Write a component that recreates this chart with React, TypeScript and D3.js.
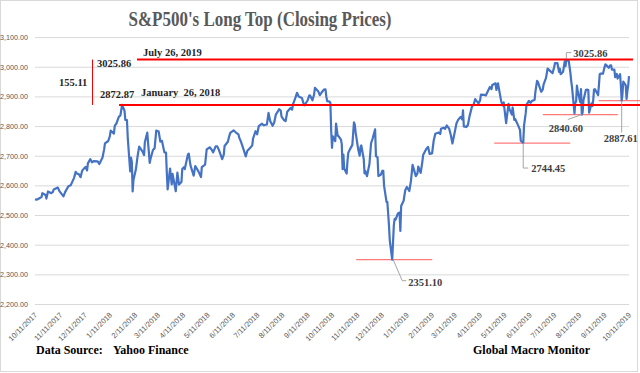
import * as d3 from "d3";

// S&P 500 closes (every few sessions)
const closeDates = [
  "2017-10-11", "2017-10-13", "2017-10-17", "2017-10-19", "2017-10-20", "2017-10-24", "2017-10-25", "2017-10-27",
  "2017-10-31", "2017-11-02", "2017-11-03", "2017-11-08", "2017-11-10", "2017-11-15", "2017-11-17", "2017-11-21",
  "2017-11-24", "2017-11-28", "2017-11-30", "2017-12-01", "2017-12-04", "2017-12-06", "2017-12-08", "2017-12-12",
  "2017-12-14", "2017-12-15", "2017-12-18", "2017-12-20", "2017-12-22", "2017-12-27", "2017-12-29",
  "2018-01-02", "2018-01-04", "2018-01-05", "2018-01-09", "2018-01-11", "2018-01-12", "2018-01-16", "2018-01-17",
  "2018-01-19", "2018-01-22", "2018-01-24", "2018-01-26", "2018-01-29", "2018-01-30", "2018-02-01", "2018-02-02",
  "2018-02-05", "2018-02-06", "2018-02-07", "2018-02-08", "2018-02-09", "2018-02-12", "2018-02-14", "2018-02-16",
  "2018-02-20", "2018-02-22", "2018-02-23", "2018-02-26", "2018-02-27", "2018-03-01", "2018-03-02", "2018-03-05",
  "2018-03-07", "2018-03-09", "2018-03-12", "2018-03-14", "2018-03-16", "2018-03-19", "2018-03-21", "2018-03-22",
  "2018-03-23", "2018-03-26", "2018-03-28", "2018-03-29", "2018-04-02", "2018-04-03", "2018-04-04", "2018-04-06",
  "2018-04-09", "2018-04-10", "2018-04-12", "2018-04-13", "2018-04-17", "2018-04-18", "2018-04-20", "2018-04-24",
  "2018-04-26", "2018-04-30", "2018-05-03", "2018-05-04", "2018-05-08", "2018-05-10", "2018-05-14", "2018-05-16",
  "2018-05-18", "2018-05-21", "2018-05-23", "2018-05-25", "2018-05-29", "2018-05-31", "2018-06-01", "2018-06-05",
  "2018-06-07", "2018-06-08", "2018-06-12", "2018-06-14", "2018-06-15", "2018-06-18", "2018-06-19", "2018-06-21",
  "2018-06-25", "2018-06-27", "2018-06-29", "2018-07-02", "2018-07-05", "2018-07-06", "2018-07-09", "2018-07-11",
  "2018-07-13", "2018-07-17", "2018-07-19", "2018-07-23", "2018-07-25", "2018-07-27", "2018-07-30", "2018-08-01",
  "2018-08-03", "2018-08-07", "2018-08-09", "2018-08-10", "2018-08-13", "2018-08-15", "2018-08-17", "2018-08-21",
  "2018-08-23", "2018-08-24", "2018-08-27", "2018-08-29", "2018-08-31", "2018-09-04", "2018-09-06", "2018-09-07",
  "2018-09-11", "2018-09-13", "2018-09-14", "2018-09-17", "2018-09-19", "2018-09-20", "2018-09-24", "2018-09-26",
  "2018-09-28", "2018-10-01", "2018-10-03", "2018-10-04", "2018-10-05", "2018-10-08", "2018-10-09", "2018-10-10",
  "2018-10-11", "2018-10-12", "2018-10-15", "2018-10-16", "2018-10-18", "2018-10-19", "2018-10-22", "2018-10-23",
  "2018-10-24", "2018-10-25", "2018-10-26", "2018-10-29", "2018-10-30", "2018-10-31", "2018-11-02", "2018-11-05",
  "2018-11-07", "2018-11-08", "2018-11-09", "2018-11-12", "2018-11-14", "2018-11-15", "2018-11-16", "2018-11-19",
  "2018-11-20", "2018-11-21", "2018-11-23", "2018-11-26", "2018-11-28", "2018-11-30", "2018-12-03", "2018-12-04",
  "2018-12-06", "2018-12-07", "2018-12-10", "2018-12-12", "2018-12-13", "2018-12-14", "2018-12-17", "2018-12-18",
  "2018-12-19", "2018-12-20", "2018-12-21", "2018-12-24", "2018-12-26", "2018-12-27", "2018-12-28", "2018-12-31",
  "2019-01-02", "2019-01-03", "2019-01-04", "2019-01-07", "2019-01-09", "2019-01-11", "2019-01-14", "2019-01-16",
  "2019-01-18", "2019-01-22", "2019-01-24", "2019-01-25", "2019-01-28", "2019-01-30", "2019-01-31", "2019-02-04",
  "2019-02-06", "2019-02-08", "2019-02-11", "2019-02-13", "2019-02-15", "2019-02-19", "2019-02-21", "2019-02-22",
  "2019-02-25", "2019-02-27", "2019-03-01", "2019-03-04", "2019-03-06", "2019-03-08", "2019-03-11", "2019-03-13",
  "2019-03-15", "2019-03-18", "2019-03-20", "2019-03-21", "2019-03-22", "2019-03-25", "2019-03-27", "2019-03-29",
  "2019-04-01", "2019-04-03", "2019-04-05", "2019-04-09", "2019-04-11", "2019-04-12", "2019-04-16", "2019-04-18",
  "2019-04-23", "2019-04-25", "2019-04-26", "2019-04-30", "2019-05-01", "2019-05-03", "2019-05-07", "2019-05-09",
  "2019-05-10", "2019-05-13", "2019-05-14", "2019-05-16", "2019-05-17", "2019-05-20", "2019-05-21", "2019-05-23",
  "2019-05-24", "2019-05-28", "2019-05-30", "2019-05-31", "2019-06-03", "2019-06-04", "2019-06-06", "2019-06-07",
  "2019-06-10", "2019-06-12", "2019-06-14", "2019-06-17", "2019-06-18", "2019-06-20", "2019-06-21", "2019-06-25",
  "2019-06-27", "2019-06-28", "2019-07-01", "2019-07-03", "2019-07-05", "2019-07-09", "2019-07-11", "2019-07-12",
  "2019-07-15", "2019-07-17", "2019-07-18", "2019-07-19", "2019-07-22", "2019-07-24", "2019-07-25", "2019-07-26",
  "2019-07-29", "2019-07-31", "2019-08-01", "2019-08-02", "2019-08-05", "2019-08-06", "2019-08-07", "2019-08-08",
  "2019-08-09", "2019-08-12", "2019-08-13", "2019-08-14", "2019-08-15", "2019-08-16", "2019-08-19", "2019-08-21",
  "2019-08-22", "2019-08-23", "2019-08-26", "2019-08-27", "2019-08-28", "2019-08-29", "2019-08-30", "2019-09-03",
  "2019-09-04", "2019-09-05", "2019-09-06", "2019-09-09", "2019-09-11", "2019-09-12", "2019-09-13", "2019-09-16",
  "2019-09-18", "2019-09-19", "2019-09-20", "2019-09-23", "2019-09-24", "2019-09-26", "2019-09-27", "2019-09-30",
  "2019-10-01", "2019-10-02", "2019-10-03", "2019-10-04", "2019-10-07", "2019-10-08", "2019-10-09", "2019-10-10",
  "2019-10-11",
];

const closeValues = [
  2555.2, 2553.2, 2559.4, 2562.1, 2575.2, 2569.1, 2557.2, 2581.1,
  2575.3, 2579.9, 2587.8, 2594.4, 2582.3, 2564.6, 2578.9, 2599.0,
  2602.4, 2627.0, 2647.6, 2642.2, 2639.4, 2629.3, 2651.5, 2664.1,
  2652.0, 2675.8, 2690.2, 2679.3, 2683.3, 2682.6, 2673.6,
  2695.8, 2723.9, 2743.2, 2751.3, 2767.6, 2786.2, 2776.4, 2802.6,
  2810.3, 2832.9, 2837.5, 2872.9, 2853.5, 2822.4, 2821.9, 2762.1,
  2648.9, 2695.1, 2681.7, 2581.0, 2619.6, 2656.0, 2698.6, 2732.2,
  2716.3, 2703.9, 2747.3, 2779.6, 2744.3, 2677.7, 2691.3, 2720.9,
  2726.8, 2786.6, 2783.0, 2749.5, 2752.0, 2712.9, 2711.9, 2643.7,
  2588.3, 2658.6, 2605.0, 2640.9, 2581.9, 2614.5, 2644.7, 2604.5,
  2613.2, 2656.9, 2663.0, 2656.3, 2706.4, 2708.6, 2670.1, 2634.6,
  2666.9, 2648.1, 2629.7, 2663.4, 2671.9, 2723.1, 2730.1, 2722.5,
  2712.9, 2733.0, 2733.3, 2721.3, 2689.9, 2705.3, 2734.6, 2748.8,
  2770.4, 2779.0, 2786.9, 2782.5, 2779.7, 2773.8, 2762.6, 2749.8,
  2717.1, 2699.6, 2718.4, 2726.7, 2736.6, 2759.8, 2784.2, 2774.0,
  2801.3, 2809.6, 2804.5, 2806.9, 2846.1, 2818.8, 2802.6, 2813.4,
  2840.4, 2858.5, 2853.6, 2833.3, 2821.9, 2818.4, 2850.1, 2862.9,
  2857.0, 2874.7, 2896.7, 2914.0, 2901.5, 2896.7, 2878.1, 2871.7,
  2887.9, 2904.2, 2905.0, 2888.8, 2908.0, 2930.8, 2919.4, 2906.0,
  2914.0, 2924.6, 2925.5, 2901.6, 2885.6, 2884.4, 2880.3, 2785.7,
  2728.4, 2767.1, 2750.8, 2809.9, 2768.8, 2767.8, 2755.9, 2740.7,
  2656.1, 2705.6, 2658.7, 2641.3, 2682.6, 2711.7, 2723.1, 2738.3,
  2813.9, 2806.8, 2781.0, 2726.2, 2701.6, 2730.2, 2736.3, 2690.7,
  2641.9, 2649.9, 2632.6, 2673.5, 2743.8, 2760.2, 2790.4, 2700.1,
  2696.0, 2633.1, 2637.7, 2651.1, 2650.5, 2600.0, 2545.9, 2546.2,
  2507.0, 2467.4, 2416.6, 2351.1, 2467.7, 2488.8, 2485.7, 2506.9,
  2510.0, 2447.9, 2531.9, 2549.7, 2585.0, 2596.3, 2582.6, 2616.1,
  2670.7, 2632.9, 2642.3, 2664.8, 2643.9, 2681.1, 2704.1, 2724.9,
  2731.6, 2707.9, 2709.8, 2753.0, 2775.6, 2779.8, 2774.9, 2792.7,
  2796.1, 2792.4, 2803.7, 2792.8, 2771.5, 2743.1, 2783.3, 2810.9,
  2822.5, 2832.9, 2824.2, 2854.9, 2800.7, 2798.4, 2805.4, 2834.4,
  2867.2, 2873.4, 2892.7, 2878.2, 2888.3, 2907.4, 2907.1, 2905.0,
  2933.7, 2926.2, 2939.9, 2945.8, 2923.7, 2945.6, 2884.1, 2870.7,
  2881.4, 2811.9, 2834.4, 2876.3, 2859.5, 2840.2, 2864.4, 2822.2,
  2826.1, 2802.4, 2788.9, 2752.1, 2744.5, 2803.3, 2843.5, 2873.3,
  2886.7, 2879.8, 2887.0, 2889.7, 2917.8, 2954.2, 2950.5, 2917.4,
  2924.9, 2941.8, 2964.3, 2995.8, 2990.4, 2979.6, 2999.9, 3013.8,
  3014.3, 2984.4, 2995.1, 2976.6, 2985.0, 3019.6, 3003.7, 3025.9,
  3021.0, 2980.4, 2953.6, 2932.1, 2844.7, 2881.8, 2884.0, 2938.1,
  2918.7, 2882.7, 2926.3, 2840.6, 2847.6, 2888.7, 2923.7, 2924.4,
  2923.0, 2847.1, 2878.4, 2869.2, 2887.9, 2924.6, 2926.5, 2906.3,
  2937.8, 2976.0, 2978.7, 2978.4, 3000.9, 3009.6, 3007.4, 2998.0,
  3006.7, 3006.8, 2992.1, 2991.8, 2966.6, 2977.6, 2961.8, 2976.7,
  2940.3, 2887.6, 2910.6, 2952.0, 2938.8, 2893.1, 2919.4, 2938.1,
  2970.3,
];

const yTicks = [2200, 2300, 2400, 2500, 2600, 2700, 2800, 2900, 3000, 3100];

const xTicks = [
  "2017-10-11", "2017-11-11", "2017-12-11", "2018-01-11", "2018-02-11", "2018-03-11", "2018-04-11",
  "2018-05-11", "2018-06-11", "2018-07-11", "2018-08-11", "2018-09-11", "2018-10-11", "2018-11-11",
  "2018-12-11", "2019-01-11", "2019-02-11", "2019-03-11", "2019-04-11", "2019-05-11", "2019-06-11",
  "2019-07-11", "2019-08-11", "2019-09-11", "2019-10-11",
];

// the two tops
const topDates = ["2019-07-26", "2018-01-26"];
const topValues = [3025.86, 2872.87];
const topLabels = ["July 26, 2019", "January  26, 2018"];
const gapLabel = "155.11"; // as printed on the chart

// pullback lows marked with thin lines and callouts
const lowDates = ["2018-12-24", "2019-06-03", "2019-08-14", "2019-10-02"];
const lowValues = [2351.1, 2744.45, 2840.6, 2887.61];

const W = 640;
const H = 373;
const parse = d3.utcParse("%Y-%m-%d");
const fmtTick = d3.utcFormat("%-m/%d/%Y");
const fmtY = d3.format(",.2f");

const serif = "'Liberation Serif', 'Times New Roman', serif";
const sans = "'Liberation Sans', Arial, sans-serif";

// per-low layout: thin line extent (px around the low) and callout geometry
const lowLayout = [
  { x0: -36, x1: 40, lead: [[1, 0], [10, 21], [14, 21]], tx: 16, ty: 26 },
  { x0: -29, x1: 47, lead: [[0, 0], [0, 25], [5, 25]], tx: 8, ty: 29 },
  { x0: -39, x1: 36, lead: [[0, 0], [-14, 5]], tx: -33, ty: 17 },
  { x0: -23, x1: 30, lead: [[0, 1], [0, 32]], tx: -18, ty: 41 },
];

export default function App() {
  const x = d3.scaleUtc().domain([parse(xTicks[0])!, parse(xTicks[xTicks.length - 1])!]).range([35, 629]);
  const y = d3.scaleLinear().domain([2200, 3100]).range([304.5, 37.6]);

  const points = closeDates.map((d, i) => ({ date: parse(d)!, value: closeValues[i] }));
  const line = d3.line<{ date: Date; value: number }>()
    .x((d) => x(d.date))
    .y((d) => y(d.value));

  const yHi = y(topValues[0]);
  const yLo = y(topValues[1]);
  const hiX = x(parse(topDates[0])!);

  return (
    <svg width={W} height={H} style={{ position: "absolute", left: 0, top: 0, background: "#fff" }}>
      <rect x={0.5} y={0.5} width={637} height={371} fill="#fff" stroke="#d9d9d9" />

      <text x={260} y={26} textAnchor="middle" fontFamily={serif} fontWeight="bold" fontSize={20}
        fill="#595959" textLength={263} lengthAdjust="spacingAndGlyphs">
        S&amp;P500's Long Top (Closing Prices)
      </text>

      {/* gridlines + y labels */}
      {yTicks.map((t) => (
        <g key={t}>
          <line x1={35} x2={629} y1={y(t)} y2={y(t)} stroke="#d9d9d9" strokeWidth={1} />
          <text x={28} y={y(t) + 2.5} textAnchor="end" fontFamily={sans} fontSize={7.2} fill="#595959">
            {fmtY(t)}
          </text>
        </g>
      ))}

      {/* x labels */}
      {xTicks.map((t) => {
        const px = x(parse(t)!);
        return (
          <text key={t} transform={`translate(${px + 2.7},315.5) rotate(-45)`} textAnchor="end"
            fontFamily={sans} fontSize={7.5} fill="#595959">
            {fmtTick(parse(t)!)}
          </text>
        );
      })}

      {/* thin support lines at the lows */}
      {lowDates.map((d, i) => {
        const px = x(parse(d)!);
        const py = y(lowValues[i]);
        const L = lowLayout[i];
        return (
          <line key={d} x1={px + L.x0} x2={Math.min(px + L.x1, 640)} y1={py} y2={py}
            stroke="#ff7a7a" strokeWidth={1.2} />
        );
      })}

      {/* price line */}
      <path d={line(points) ?? ""} fill="none" stroke="#4472C4" strokeWidth={2.2} strokeLinejoin="round" />

      {/* top lines */}
      <line x1={137} x2={633} y1={yHi} y2={yHi} stroke="#ff0000" strokeWidth={2} />
      <line x1={x(parse(topDates[1])!) - 3} x2={640} y1={yLo} y2={yLo} stroke="#ff0000" strokeWidth={2} />
      <line x1={92.5} x2={92.5} y1={yHi} y2={yLo} stroke="#ff0000" strokeWidth={1} />

      <g fontFamily={serif} fontWeight="bold" fontSize={10.5} fill="#262626">
        <text x={59} y={(yHi + yLo) / 2 + 3.5}>{gapLabel}</text>
        <text x={97} y={yHi + 7}>{topValues[0].toFixed(2)}</text>
        <text x={100} y={yLo - 7}>{topValues[1].toFixed(2)}</text>
        <text x={143} y={yHi - 3.5}>{topLabels[0]}</text>
        <text x={141} y={yLo - 9} style={{ whiteSpace: "pre" }}>{topLabels[1]}</text>
      </g>

      {/* callouts */}
      <polyline points={`${hiX},${yHi - 1} ${hiX},${yHi - 7} ${hiX + 5},${yHi - 7}`} fill="none"
        stroke="#a6a6a6" strokeWidth={1} />
      <text x={hiX + 7} y={yHi - 3} fontFamily={serif} fontWeight="bold" fontSize={10.5} fill="#404040">
        {topValues[0].toFixed(2)}
      </text>
      {lowDates.map((d, i) => {
        const px = x(parse(d)!);
        const py = y(lowValues[i]);
        const L = lowLayout[i];
        return (
          <g key={d}>
            <polyline points={L.lead.map(([dx, dy]) => `${px + dx},${py + dy}`).join(" ")} fill="none"
              stroke="#a6a6a6" strokeWidth={1} />
            <text x={px + L.tx} y={py + L.ty} fontFamily={serif} fontWeight="bold" fontSize={10.5} fill="#404040">
              {lowValues[i].toFixed(2)}
            </text>
          </g>
        );
      })}

      <g fontFamily={serif} fontWeight="bold" fontSize={12} fill="#000">
        <text x={36} y={354}>Data Source:</text>
        <text x={113} y={354}>Yahoo Finance</text>
        <text x={473} y={354}>Global Macro Monitor</text>
      </g>
    </svg>
  );
}
